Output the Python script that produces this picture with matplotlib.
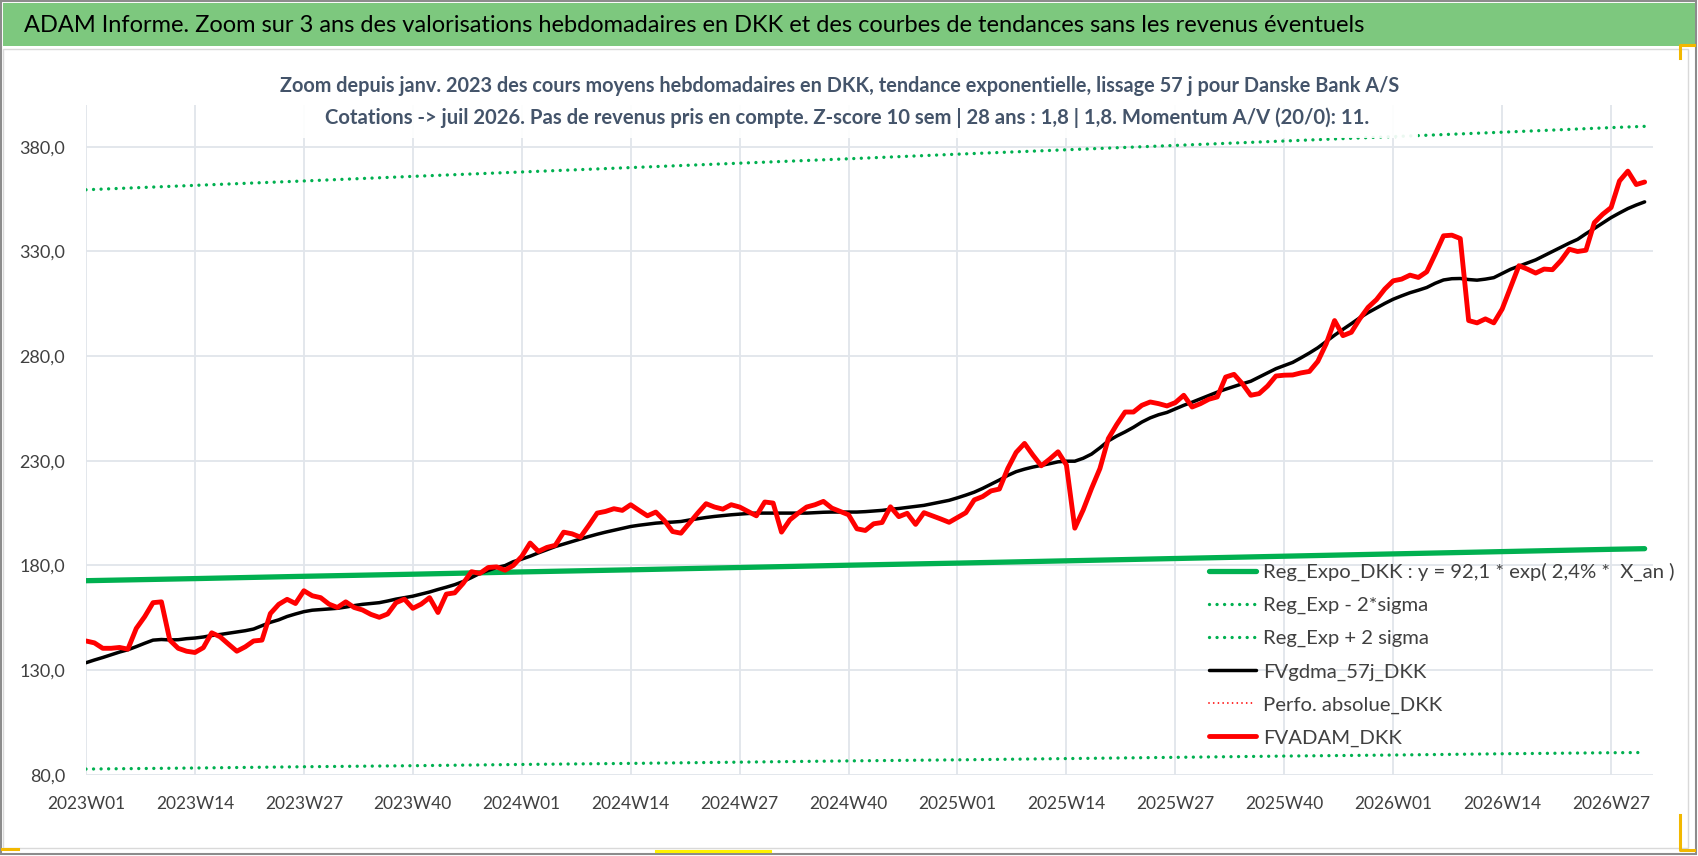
import matplotlib
matplotlib.use("Agg")
import matplotlib.pyplot as plt
from matplotlib.patches import Rectangle
from matplotlib.lines import Line2D

W, H = 1698, 856
FONT = ['Lato', 'DejaVu Sans']
plt.rcParams['font.family'] = FONT

# ---- data ----
years = [2023, 2024, 2025, 2026]
weeks_in_year = [52, 52, 52, 31]
categories = [f"{y}W{w:02d}" for y, n in zip(years, weeks_in_year) for w in range(1, n + 1)]

# weekly average price (FVADAM_DKK)
fvadam = [
    143.9, 143.0, 140.4, 140.4, 140.8, 140.0, 149.9, 155.5, 162.2, 162.6,
    144.3, 140.4, 139.0, 138.4, 140.7, 147.8, 145.9, 142.4, 139.0, 141.1,
    143.9, 144.3, 157.0, 161.4, 163.8, 161.8, 167.9, 165.5, 164.6, 161.5,
    159.9, 162.6, 159.9, 158.7, 156.6, 155.2, 156.8, 162.2, 163.9, 159.5,
    161.5, 164.6, 157.5, 166.3, 166.9, 171.4, 177.0, 176.2, 179.0, 179.3,
    177.7, 180.0, 184.3, 190.7, 186.7, 188.6, 189.6, 195.9, 195.1, 193.5,
    199.1, 205.0, 205.8, 207.1, 206.3, 209.0, 206.3, 203.7, 205.5, 201.5,
    196.2, 195.4, 200.2, 205.0, 209.5, 207.9, 206.9, 209.0, 207.9, 205.8,
    203.7, 210.3, 209.8, 195.9, 201.8, 205.0, 207.9, 209.0, 210.6, 207.4,
    205.8, 204.2, 197.5, 196.7, 199.9, 200.5, 208.0, 203.3, 204.9, 199.6,
    205.2, 203.7, 202.2, 200.6, 202.9, 205.2, 211.3, 212.9, 215.6, 216.5,
    226.3, 234.0, 238.3, 232.7, 227.6, 230.8, 234.3, 228.0, 197.8, 206.5,
    216.8, 226.3, 240.6, 247.3, 253.3, 253.3, 256.5, 258.1, 257.3, 256.2,
    257.8, 261.3, 255.7, 257.3, 259.4, 260.5, 270.0, 271.3, 266.8, 261.3,
    262.1, 265.7, 270.5, 270.9, 271.0, 272.0, 272.7, 277.5, 285.9, 297.0,
    289.8, 291.4, 297.8, 303.3, 307.0, 312.1, 316.0, 316.8, 318.7, 317.6,
    320.3, 328.7, 337.5, 337.8, 336.2, 297.0, 295.9, 297.8, 295.9, 302.5,
    312.9, 323.2, 321.6, 319.7, 321.6, 321.3, 325.6, 331.1, 330.0, 330.6,
    343.8, 347.8, 351.0, 363.7, 368.4, 362.0, 363.2,
]

# 57 day smoothing (FVgdma_57j_DKK)
fvgdma = [
    133.5, 134.8, 136.0, 137.3, 138.6, 139.7, 141.2, 142.8, 144.3, 144.6,
    144.4, 144.5, 145.0, 145.3, 145.8, 146.5, 147.0, 147.6, 148.2, 148.8,
    149.6, 151.2, 152.8, 154.0, 155.6, 156.8, 157.9, 158.6, 158.9, 159.2,
    159.5, 160.1, 160.8, 161.4, 161.8, 162.2, 163.0, 163.9, 164.6, 165.3,
    166.3, 167.3, 168.5, 169.6, 170.8, 172.3, 174.2, 176.2, 177.6, 179.0,
    179.9, 181.8, 183.0, 184.4, 186.0, 187.5, 189.0, 190.2, 191.4, 192.6,
    193.8, 194.9, 195.9, 196.8, 197.7, 198.6, 199.2, 199.7, 200.2, 200.5,
    200.7, 201.0, 201.7, 202.3, 202.9, 203.4, 203.8, 204.2, 204.5, 204.8,
    205.0, 205.0, 205.0, 205.0, 205.0, 205.0, 205.0, 205.2, 205.4, 205.5,
    205.5, 205.5, 205.5, 205.7, 206.0, 206.3, 206.8, 207.2, 207.7, 208.2,
    208.7, 209.5, 210.3, 211.1, 212.3, 213.6, 215.0, 216.8, 218.8, 220.8,
    223.0, 224.8, 226.0, 227.0, 227.8, 228.6, 229.5, 229.8, 229.8, 231.2,
    233.2, 236.2, 239.5, 241.8, 243.8, 246.0, 248.5, 250.5, 252.0, 253.1,
    254.8, 256.5, 258.0, 259.6, 261.2, 262.8, 264.2, 265.5, 266.8, 268.0,
    270.0, 272.0, 274.0, 275.5, 277.0, 279.2, 281.5, 284.0, 287.0, 290.0,
    292.8, 295.5, 298.3, 300.8, 303.0, 305.2, 307.2, 308.8, 310.3, 311.5,
    312.8, 314.8, 316.4, 317.0, 317.1, 316.6, 316.3, 316.8, 317.5, 319.5,
    321.5, 323.0, 324.5, 326.0, 328.0, 330.0, 332.0, 334.0, 335.8, 338.5,
    341.0, 343.6, 346.2, 348.4, 350.5, 352.2, 353.7,
]

# exponential regression and +/- 2 sigma bands, read every 13 weeks
trend_idx = [0, 13, 26, 39, 52, 65, 78, 91, 104, 117, 130, 143, 156, 169, 182, 186]
reg_expo = [172.7, 173.7, 174.8, 175.8, 176.9, 177.9, 179.0, 180.1,
            181.1, 182.2, 183.3, 184.4, 185.5, 186.6, 187.7, 188.0]
reg_minus = [82.7, 83.2, 83.8, 84.3, 84.9, 85.4, 86.0, 86.6,
             87.1, 87.7, 88.3, 88.9, 89.4, 90.0, 90.5, 90.6]
reg_plus = [359.5, 361.6, 363.7, 365.9, 368.0, 370.1, 372.2, 374.3,
            376.5, 378.6, 380.7, 382.8, 384.9, 387.0, 389.2, 389.8]
perfo_abs = []   # no visible values in the zoom window

title_txt = "ADAM Informe. Zoom sur 3 ans des valorisations hebdomadaires en DKK et des courbes de tendances sans les revenus éventuels"
sub1 = "Zoom depuis janv. 2023 des cours moyens hebdomadaires en DKK, tendance exponentielle, lissage 57 j pour Danske Bank A/S"
sub2 = "Cotations -> juil 2026. Pas de revenus pris en compte. Z-score 10 sem | 28 ans : 1,8 | 1,8. Momentum A/V (20/0): 11."
legend_labels = ["Reg_Expo_DKK : y = 92,1 * exp( 2,4% *  X_an )", "Reg_Exp - 2*sigma",
                 "Reg_Exp + 2 sigma", "FVgdma_57j_DKK", "Perfo. absolue_DKK", "FVADAM_DKK"]


def fx(px):
    return px / W


def fy(py):
    return 1 - py / H


fig = plt.figure(figsize=(W / 100, H / 100), dpi=100)
fig.patch.set_facecolor('white')
renderer = fig.canvas.get_renderer()


def fit_width(txt, target_px):
    # scale the font so the text spans the same width as in the screenshot
    w = txt.get_window_extent(renderer).width
    txt.set_fontsize(txt.get_fontsize() * target_px / w)


# chart frame + green banner
fig.add_artist(Rectangle((fx(1), fy(854)), fx(1695), (854 - 1) / H, transform=fig.transFigure,
                         facecolor='none', edgecolor='#8C8C8C', lw=1.5, zorder=-5))
fig.add_artist(Rectangle((fx(3), fy(46)), fx(1692), 43 / H, transform=fig.transFigure,
                         facecolor='#7DC87E', edgecolor='none', zorder=-4))
fig.add_artist(Rectangle((fx(3), fy(848)), fx(1685), (848 - 49) / H, transform=fig.transFigure,
                         facecolor='white', edgecolor='#D9D9D9', lw=1.0, zorder=-4))
t_title = fig.text(fx(24), fy(25), title_txt, fontsize=17, color='black', va='center', ha='left')
fit_width(t_title, 1340)

ax = fig.add_axes([fx(86), fy(774.7), fx(1653 - 86), (774.7 - 105) / H])
ax.set_facecolor('none')
x_all = list(range(len(categories)))

ax.plot(trend_idx, reg_expo, color='#00B050', lw=3.8, solid_capstyle='round', label=legend_labels[0], zorder=3)
ax.plot(trend_idx, reg_minus, color='#00B050', lw=2.4, linestyle=(0, (0.01, 2.25)),
        dash_capstyle='round', label=legend_labels[1], zorder=3)
ax.plot(trend_idx, reg_plus, color='#00B050', lw=2.4, linestyle=(0, (0.01, 2.25)),
        dash_capstyle='round', label=legend_labels[2], zorder=3)
ax.plot(x_all[:len(fvgdma)], fvgdma, color='black', lw=2.5, solid_capstyle='round',
        label=legend_labels[3], zorder=4)
ax.plot(x_all[:len(perfo_abs)], perfo_abs, color='#FF0000', lw=1.3, linestyle=(0, (0.01, 2.6)),
        dash_capstyle='round', label=legend_labels[4], zorder=4)
ax.plot(x_all[:len(fvadam)], fvadam, color='#FF0000', lw=3.5, solid_capstyle='round',
        solid_joinstyle='round', label=legend_labels[5], zorder=5)

ax.set_xlim(0, 187)
ax.set_ylim(80, 400)
ax.set_yticks([80, 130, 180, 230, 280, 330, 380])
ax.set_yticklabels([f"{v:.1f}".replace('.', ',') for v in [80, 130, 180, 230, 280, 330, 380]])
tick_pos = list(range(0, len(categories), 13))
ax.set_xticks(tick_pos)
ax.set_xticklabels([categories[i] for i in tick_pos])
ax.grid(True, color='#E1E5EB', lw=1.3)
ax.set_axisbelow(True)
for s in ax.spines.values():
    s.set_visible(False)
ax.tick_params(axis='both', length=0, labelsize=13, labelcolor='#404040')
ax.tick_params(axis='x', labelsize=12.5, pad=15)
ax.tick_params(axis='y', pad=15)

# chart title in its (slightly transparent) white box above the plot
fig.add_artist(Rectangle((fx(276), fy(138)), fx(1418 - 276), (138 - 58) / H, transform=fig.transFigure,
                         facecolor='white', edgecolor='none', alpha=0.92, zorder=5))
t_sub1 = fig.text(fx(840), fy(86), sub1, fontsize=16, fontweight='bold', color='#44546A',
                  ha='center', va='center', zorder=6)
t_sub2 = fig.text(fx(847), fy(118), sub2, fontsize=16, fontweight='bold', color='#44546A',
                  ha='center', va='center', zorder=6)
fit_width(t_sub1, 1124)
fit_width(t_sub2, 1049)

leg = ax.legend(loc='upper left', bbox_to_anchor=(fx(1209), fy(563)), bbox_transform=fig.transFigure,
                frameon=False, fontsize=14.6, handlelength=2.3, handletextpad=0.35,
                labelspacing=0.77, borderpad=0, borderaxespad=0)
for t in leg.get_texts():
    t.set_color('#404040')
leg.set_zorder(6)

# selection handle marks seen on the original screenshot
for xs, ys, col in [((1680, 1680, 1694), (58, 45, 45), '#F2B800'),
                    ((1680, 1680, 1694), (815, 850, 850), '#F2B800'),
                    ((2, 18), (849, 849), '#F2B800'),
                    ((656, 770), (851, 851), '#FFF200')]:
    fig.add_artist(Line2D([fx(v) for v in xs], [fy(v) for v in ys], transform=fig.transFigure,
                          color=col, lw=2.2, zorder=7))

fig.savefig('out.png', dpi=100)
